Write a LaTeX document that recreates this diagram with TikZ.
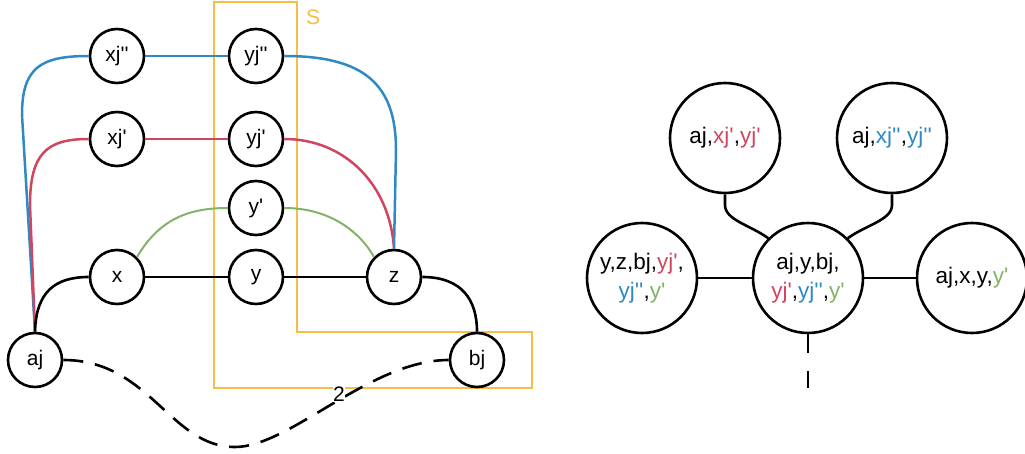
\documentclass[tikz,border=0pt]{standalone}
\usepackage{fontspec}
\setmainfont{Liberation Sans}[Ligatures=TeXOff]
\definecolor{cblue}{RGB}{47,137,196}
\definecolor{cred}{RGB}{208,70,94}
\definecolor{cgreen}{RGB}{130,179,102}
\definecolor{corange}{RGB}{245,190,70}
\begin{document}
\begin{tikzpicture}[x=1pt,y=-1pt,
  gn/.style={circle,draw,line width=2.6pt,minimum size=54pt,inner sep=0pt,font=\fontsize{21}{24}\selectfont},
  tn/.style={circle,draw,line width=2.6pt,minimum size=110pt,inner sep=0pt,align=center,font=\fontsize{22.5}{29}\selectfont},
  bl/.style={line width=2.6pt,black},
  bu/.style={line width=2.5pt,cblue},
  rd/.style={line width=2.5pt,cred},
  gr/.style={line width=2pt,cgreen},
  sbox/.style={line width=2.4pt,corange}]
\useasboundingbox (0,0) rectangle (1025,454);
% separator box S
\draw[sbox] (214,2) -- (297,2) -- (297,332) -- (532,332) -- (532,388) -- (214,388) -- cycle;
\node[text=corange,font=\fontsize{21}{22}\selectfont] (S) at (313,17) {S};
% left graph nodes
\node[gn] (xjb) at (117,56) {xj''};
\node[gn] (yjb) at (256,56) {yj''};
\node[gn] (xja) at (117,139) {xj'};
\node[gn] (yja) at (256,139) {yj'};
\node[gn] (yp) at (256,208) {y'};
\node[gn] (x) at (117,277) {x};
\node[gn] (y) at (256,277) {y};
\node[gn] (z) at (394,277) {z};
\node[gn] (aj) at (35,360) {aj};
\node[gn] (bj) at (477,360) {bj};
% edges
\draw[bu] (xjb) -- (yjb);
\draw[rd] (xja) -- (yja);
\draw[bl] (x) -- (y);
\draw[bl] (y) -- (z);
\draw[bu] (aj.north) -- (22,115) .. controls (22,68) and (40,56) .. (xjb.west);
\draw[rd] (aj.north) -- (30,205) .. controls (30,152) and (48,139) .. (xja.west);
\draw[bl] (aj.north) .. controls (36,292) and (55,277) .. (x.west);
\draw[gr] (x.north east) .. controls (160,218) and (190,208) .. (yp.west);
\draw[gr] (yp.east) .. controls (330,208) and (360,232) .. (z.north west);
\draw[rd] (yja.east) .. controls (345,139) and (390,185) .. (z.north);
\draw[bu] (yjb.east) .. controls (365,56) and (396,85) .. (396,150) -- (z.north);
\draw[bl] (z.east) .. controls (462,277) and (477,300) .. (bj.north);
\draw[bl,dash pattern=on 20pt off 12pt] (aj.east) .. controls (150,360) and (170,447) .. (235,447)
   .. controls (290,447) and (370,360) .. (bj.west);
\node[font=\fontsize{21}{22}\selectfont,fill=white,inner sep=0.5pt] (two) at (339,394) {2};
% right tree
\node[tn] (t1) at (725,138) {aj,\textcolor{cred}{xj'},\textcolor{cred}{yj'}};
\node[tn] (t2) at (892,138) {aj,\textcolor{cblue}{xj''},\textcolor{cblue}{yj''}};
\node[tn] (c) at (808,278) {aj,y,bj,\\\textcolor{cred}{yj'},\textcolor{cblue}{yj''},\textcolor{cgreen}{y'}};
\node[tn] (l) at (642,278) {y,z,bj,\textcolor{cred}{yj'},\\\textcolor{cblue}{yj''},\textcolor{cgreen}{y'}};
\node[tn] (r) at (972,278) {aj,x,y,\textcolor{cgreen}{y'}};
\coordinate (cb) at (808,388);
\draw[bl] (l) -- (c);
\draw[bl] (c) -- (r);
\draw[bl] (t1.south) -- (725,205) .. controls (725,220) and (750,225) .. (c.north west);
\draw[bl] (t2.south) -- (892,205) .. controls (892,220) and (866,225) .. (c.north east);
\draw[bl,dash pattern=on 19pt off 18pt] (c.south) -- (cb);
\end{tikzpicture}
\end{document}
